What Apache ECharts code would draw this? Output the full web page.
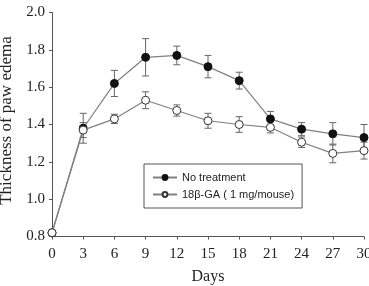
<!DOCTYPE html>
<html><head><meta charset="utf-8">
<script src="https://cdn.jsdelivr.net/npm/echarts@6/dist/echarts.min.js"></script>
<style>html,body{margin:0;padding:0;background:#fff}#c{width:369px;height:286px}</style>
</head><body><div id="c"></div>
<script>
const days = [0, 3, 6, 9, 12, 15, 18, 21, 24, 27, 30];
const noTreatment = [0.82, 1.38, 1.62, 1.76, 1.77, 1.71, 1.635, 1.43, 1.375, 1.35, 1.33];
const noTreatmentErr = [0.01, 0.08, 0.07, 0.10, 0.05, 0.06, 0.045, 0.04, 0.035, 0.06, 0.07];
const ga = [0.82, 1.37, 1.43, 1.53, 1.475, 1.42, 1.40, 1.385, 1.305, 1.245, 1.26];
const gaErr = [0.01, 0.04, 0.025, 0.045, 0.03, 0.04, 0.042, 0.03, 0.028, 0.05, 0.045];
const xTicks = [0, 3, 6, 9, 12, 15, 18, 21, 24, 27, 30];
const yTicks = [0.8, 1.0, 1.2, 1.4, 1.6, 1.8, 2.0];

const serif = '"Liberation Serif", "DejaVu Serif", serif';
const sans = '"Liberation Sans", Arial, sans-serif';
const lineColor = '#808080';

function errData(vals, errs) {
  return days.map((d, i) => [d, vals[i] - errs[i], vals[i] + errs[i]]);
}
function errSeries(vals, errs) {
  return {
    type: 'custom',
    data: errData(vals, errs),
    z: 1,
    silent: true,
    renderItem: function (params, api) {
      const x = api.value(0);
      const lo = api.coord([x, api.value(1)]);
      const hi = api.coord([x, api.value(2)]);
      const w = 3.5;
      const st = { stroke: '#666', lineWidth: 1 };
      return {
        type: 'group',
        children: [
          { type: 'line', shape: { x1: lo[0], y1: lo[1], x2: hi[0], y2: hi[1] }, style: st },
          { type: 'line', shape: { x1: lo[0] - w, y1: lo[1], x2: lo[0] + w, y2: lo[1] }, style: st },
          { type: 'line', shape: { x1: hi[0] - w, y1: hi[1], x2: hi[0] + w, y2: hi[1] }, style: st }
        ]
      };
    }
  };
}

const chart = echarts.init(document.getElementById('c'), null, { renderer: 'canvas' });
chart.setOption({
  animation: false,
  backgroundColor: '#fff',
  grid: { left: 52, right: 5, top: 12.5, bottom: 49.5, outerBoundsMode: 'none', containLabel: false },
  legend: {
    left: 144, top: 164, width: 160, height: 43,
    orient: 'vertical',
    itemGap: 6,
    itemWidth: 24, itemHeight: 6,
    padding: [8, 8, 8, 8],
    borderColor: '#555', borderWidth: 1,
    textStyle: { fontFamily: sans, fontSize: 11, color: '#222' },
    data: ['No treatment', '18β-GA ( 1 mg/mouse)']
  },
  xAxis: {
    type: 'value', min: 0, max: 30, interval: 3,
    name: 'Days', nameLocation: 'middle', nameGap: 32,
    nameTextStyle: { fontFamily: serif, fontSize: 16, color: '#222' },
    axisLine: { onZero: false, lineStyle: { color: '#555', width: 1 } },
    axisTick: { show: true, length: 3, inside: false, lineStyle: { color: '#555' } },
    axisLabel: { fontFamily: serif, fontSize: 15, color: '#222', margin: 10,
      formatter: v => xTicks.includes(v) ? String(v) : '' },
    splitLine: { show: false }
  },
  yAxis: {
    type: 'value', min: 0.8, max: 2.0, interval: 0.2,
    name: 'Thickness of paw edema', nameLocation: 'middle', nameGap: 32,
    nameTextStyle: { fontFamily: serif, fontSize: 17, color: '#222', padding: [0, 0, 0, 8] },
    axisLine: { show: true, lineStyle: { color: '#555', width: 1 } },
    axisTick: { show: true, length: 3, inside: false, lineStyle: { color: '#555' } },
    axisLabel: { fontFamily: serif, fontSize: 15, color: '#222', margin: 7,
      formatter: v => { const t = yTicks.find(y => Math.abs(y - v) < 1e-6); return t !== undefined ? t.toFixed(1) : ''; } },
    splitLine: { show: false }
  },
  series: [
    errSeries(noTreatment, noTreatmentErr),
    errSeries(ga, gaErr),
    {
      name: 'No treatment', type: 'line', z: 3,
      data: days.map((d, i) => [d, noTreatment[i]]),
      symbol: 'circle', symbolSize: 8,
      lineStyle: { color: lineColor, width: 1.2 },
      itemStyle: { color: '#111', borderColor: '#111', borderWidth: 1 }
    },
    {
      name: '18β-GA ( 1 mg/mouse)', type: 'line', z: 4,
      data: days.map((d, i) => [d, ga[i]]),
      symbol: 'circle', symbolSize: 8,
      lineStyle: { color: lineColor, width: 1.2 },
      itemStyle: { color: '#fff', borderColor: '#333', borderWidth: 1 }
    }
  ]
});
</script>
</body></html>
